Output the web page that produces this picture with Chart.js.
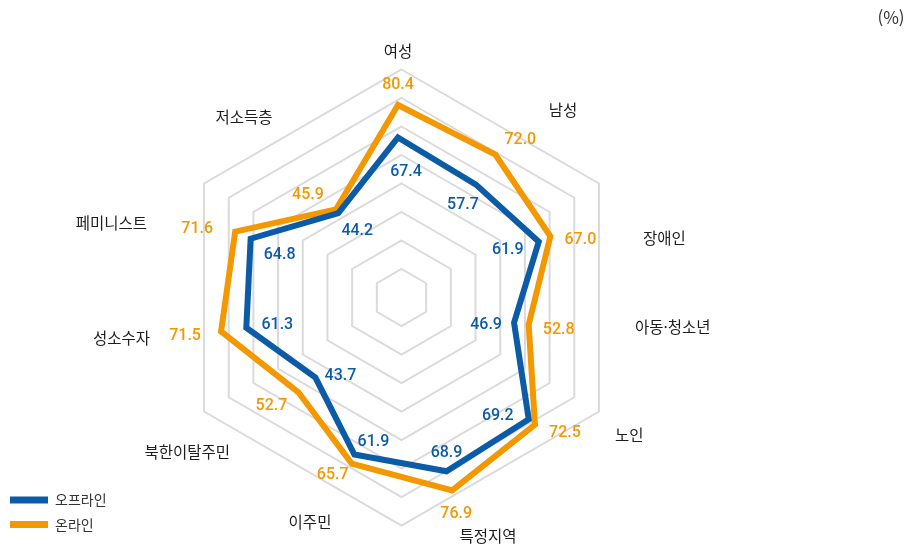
<!DOCTYPE html>
<html lang="ko">
<head>
  <meta charset="UTF-8" />
  <title>온라인·오프라인 레이더 차트</title>
  <script src="https://cdn.jsdelivr.net/npm/chart.js@4.4.0"></script>
  <style>
    html, body { margin: 0; padding: 0; background: #fff; }
    canvas { display: block; }
  </style>
</head>
<body>
  <canvas id="radarChart" width="914" height="548"></canvas>

  <script>
    const categories = ['여성', '남성', '장애인', '아동·청소년', '노인', '특정지역', '이주민', '북한이탈주민', '성소수자', '페미니스트', '저소득층'];
    const offlineValues = [67.4, 57.7, 61.9, 46.9, 69.2, 68.9, 61.9, 43.7, 61.3, 64.8, 44.2];
    const onlineValues = [80.4, 72.0, 67.0, 52.8, 72.5, 76.9, 65.7, 52.7, 71.5, 71.6, 45.9];
    const seriesNames = ['오프라인', '온라인'];
    const unitLabel = '(%)';

    const BLUE = '#0c5ba7';
    const ORANGE = '#f39800';
    const KR_FONT = '"Noto Sans CJK KR", "Noto Sans", sans-serif';

    // where each category name sits, relative to the centre of the radar
    const catPlace = [
      [0, -255, 'center'], [165, -196, 'center'], [245, -68, 'left'], [237, 21, 'left'],
      [217, 129, 'left'], [90, 230, 'center'], [-88, 216, 'center'], [-168, 146, 'right'],
      [-248, 32, 'right'], [-251, -83, 'right'], [-154, -189, 'center']
    ];
    // value label nudges from the point, per series
    const valueNudge = [
      [[8, 34], [-13, 20], [-31, 8], [-28, 2], [-31, -3], [0, -18], [19, -12], [25, -2], [31, -3], [29, 16], [19, 18]],
      [[0, -20], [25, -15], [30, 4], [30, 5], [30, 8], [4, 24], [-19, 11], [-27, 14], [-36, 5], [-38, -3], [-28, -14]]
    ];

    const radarDecor = {
      id: 'radarDecor',
      beforeDatasetsDraw(chart) {
        const r = chart.scales.r;
        const ctx = chart.ctx;
        ctx.save();
        ctx.strokeStyle = '#dadada';
        ctx.lineWidth = 2;
        // hexagon grid (the original uses a six-sided web)
        const cx = r.xCenter + 3.5, cy = r.yCenter - 8.5;
        for (let i = 1; i <= 8; i++) {
          const rad = r.getDistanceFromCenterForValue(11.4 * i);
          ctx.beginPath();
          for (let k = 0; k < 6; k++) {
            const a = -Math.PI / 2 + k * Math.PI / 3;
            const x = cx + rad * Math.cos(a), y = cy + rad * Math.sin(a);
            if (k === 0) ctx.moveTo(x, y); else ctx.lineTo(x, y);
          }
          ctx.closePath();
          ctx.stroke();
        }
        ctx.restore();
      },
      afterDatasetsDraw(chart) {
        const r = chart.scales.r;
        const ctx = chart.ctx;
        ctx.save();
        ctx.textBaseline = 'middle';

        // category names
        ctx.font = '15.5px ' + KR_FONT;
        ctx.fillStyle = '#1e1e1e';
        chart.data.labels.forEach((lab, i) => {
          const [dx, dy, align] = catPlace[i];
          ctx.textAlign = align;
          ctx.fillText(lab, r.xCenter + dx, r.yCenter + dy);
        });

        // value labels
        ctx.font = '500 16px Roboto, "Noto Sans", sans-serif';
        ctx.textAlign = 'center';
        chart.data.datasets.forEach((ds, d) => {
          const meta = chart.getDatasetMeta(d);
          ctx.fillStyle = ds.borderColor;
          meta.data.forEach((pt, i) => {
            const [nx, ny] = valueNudge[d][i];
            ctx.fillText(ds.data[i].toFixed(1), pt.x + nx, pt.y + ny);
          });
        });

        // legend, bottom-left
        ctx.textAlign = 'left';
        ctx.font = '14px ' + KR_FONT;
        chart.data.datasets.forEach((ds, d) => {
          const y = 500 + d * 24.5;
          ctx.fillStyle = ds.borderColor;
          ctx.fillRect(10, y - 3.5, 38, 7);
          ctx.fillStyle = '#333';
          ctx.fillText(ds.label, 55, y);
        });

        // unit
        ctx.font = '17px ' + KR_FONT;
        ctx.textAlign = 'center';
        ctx.fillStyle = '#333';
        ctx.fillText(unitLabel, 891, 18);
        ctx.restore();
      }
    };

    new Chart(document.getElementById('radarChart'), {
      type: 'radar',
      data: {
        labels: categories,
        datasets: [
          {
            label: seriesNames[0],
            data: offlineValues,
            borderColor: BLUE,
            backgroundColor: 'rgba(0,0,0,0)',
            borderWidth: 6,
            pointRadius: 0,
            fill: false
          },
          {
            label: seriesNames[1],
            data: onlineValues,
            borderColor: ORANGE,
            backgroundColor: 'rgba(0,0,0,0)',
            borderWidth: 6,
            pointRadius: 0,
            fill: false
          }
        ]
      },
      options: {
        responsive: false,
        animation: false,
        layout: { padding: { top: 64, left: 156, right: 273, bottom: 0 } },
        elements: { line: { tension: 0, borderJoinStyle: 'miter' } },
        plugins: {
          legend: { display: false },
          tooltip: { enabled: false }
        },
        scales: {
          r: {
            min: 0,
            max: 96.8,
            ticks: { display: false },
            grid: { display: false },
            angleLines: { display: false },
            pointLabels: { display: false }
          }
        }
      },
      plugins: [radarDecor]
    });
  </script>
</body>
</html>
